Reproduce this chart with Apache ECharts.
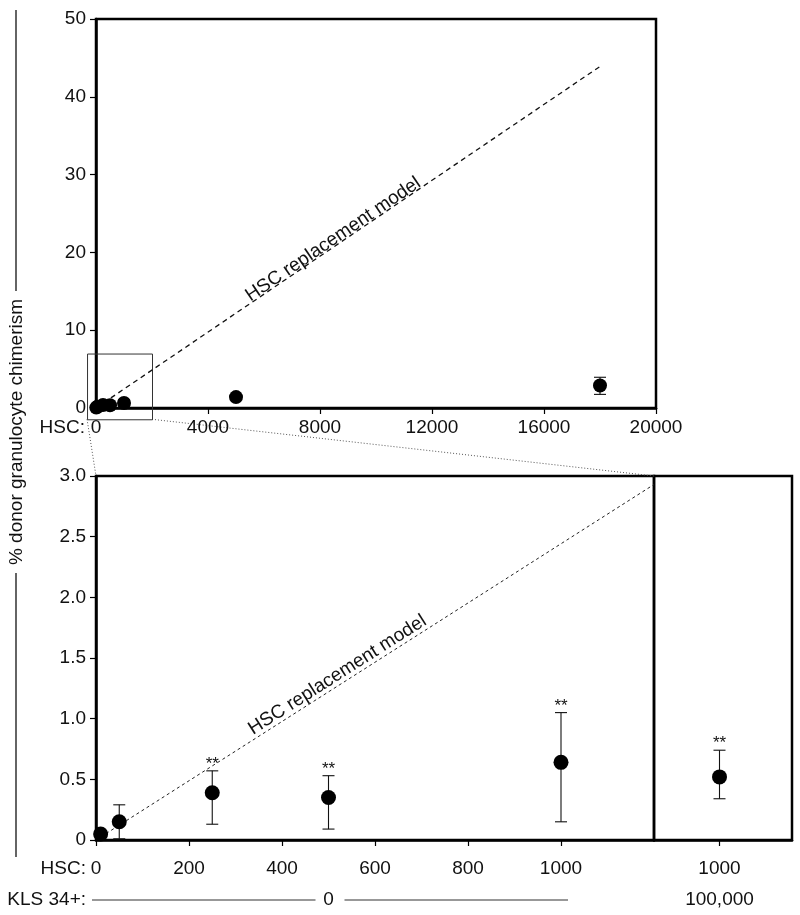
<!DOCTYPE html>
<html><head><meta charset="utf-8">
<script src="https://cdn.jsdelivr.net/npm/echarts@6/dist/echarts.min.js"></script>
<style>html,body{margin:0;padding:0;background:#fff}#c{width:800px;height:915px}</style>
</head><body><div id="c"></div>
<script>
// ---------- data ----------
const hscLowDose = [10, 50, 250, 500, 1000];
const chimLowDose = [0.05, 0.15, 0.39, 0.35, 0.64];
const chimLowDoseLo = [0.04, 0.01, 0.13, 0.09, 0.15];
const chimLowDoseHi = [0.06, 0.29, 0.57, 0.53, 1.05];
const sigLowDose = ['', '', '**', '**', '**'];

const hscHighDose = [5000, 18000];
const chimHighDose = [1.4, 2.9];
const chimHighDoseLo = [1.2, 1.75];
const chimHighDoseHi = [1.6, 3.95];

const hscCombo = [1000];
const klsCombo = ['100,000'];
const chimCombo = [0.52];
const chimComboLo = [0.34];
const chimComboHi = [0.74];
const sigCombo = ['**'];

const modelTopX = [0, 18000];
const modelTopY = [0, 43.9];
const modelBottomX = [0, 1200];
const modelBottomY = [0, 2.93];
const modelLabel = 'HSC replacement model';
const modelLabelTopAt = [8600];
const modelLabelBottomAt = [530];

const zoomBoxX = [-320, 2000];
const zoomBoxY = [-1.45, 7];

const topXTicks = [0, 4000, 8000, 12000, 16000, 20000];
const topYTicks = [0, 10, 20, 30, 40, 50];
const bottomXTicks = [0, 200, 400, 600, 800, 1000];
const bottomYTicks = [0, 0.5, 1, 1.5, 2, 2.5, 3];
const comboXTicks = [1000];
const klsLowLabel = '0';
const klsLowAt = 500;
const hscRowLabel = 'HSC:';
const klsRowLabel = 'KLS 34+:';
const yTitle = '% donor granulocyte chimerism';

// ---------- helpers ----------
const FONT = '"Liberation Sans", Arial, Helvetica, sans-serif';
const zip = (a, b) => a.map((v, i) => [v, b[i]]);
const zip3 = (a, b, c) => a.map((v, i) => [v, b[i], c[i]]);

function errRender(sig, capW) {
  return function (params, api) {
    const x = api.value(0), lo = api.value(1), hi = api.value(2);
    const pl = api.coord([x, lo]), ph = api.coord([x, hi]);
    const st = { stroke: '#111', lineWidth: 1.1 };
    const ch = [
      { type: 'line', shape: { x1: pl[0], y1: pl[1], x2: ph[0], y2: ph[1] }, style: st },
      { type: 'line', shape: { x1: pl[0] - capW, y1: pl[1], x2: pl[0] + capW, y2: pl[1] }, style: st },
      { type: 'line', shape: { x1: ph[0] - capW, y1: ph[1], x2: ph[0] + capW, y2: ph[1] }, style: st }
    ];
    const s = sig ? sig[params.dataIndex] : '';
    if (s) ch.push({ type: 'text', x: ph[0], y: ph[1] + 2,
      style: { text: s, fill: '#111', font: '17px ' + FONT, align: 'center', verticalAlign: 'bottom' } });
    return { type: 'group', children: ch };
  };
}
function labelRender(mx, my, dy) {
  return function (params, api) {
    const xc = api.value(0);
    const p0 = api.coord([mx[0], my[0]]), p1 = api.coord([mx[1], my[1]]);
    const t = (xc - mx[0]) / (mx[1] - mx[0]);
    const px = p0[0] + t * (p1[0] - p0[0]), py = p0[1] + t * (p1[1] - p0[1]);
    const ang = Math.atan2(p0[1] - p1[1], p1[0] - p0[0]);
    return { type: 'group', x: px, y: py, rotation: ang, children: [
      { type: 'text', x: 0, y: dy, style: { text: modelLabel, fill: '#111', font: '19px ' + FONT, align: 'center', verticalAlign: 'bottom' } }
    ] };
  };
}
function xAx(gridIndex, min, max, ticks, margin, fmt) {
  return {
    type: 'value', gridIndex, min, max,
    axisLine: { show: true, onZero: false, lineStyle: { color: '#000', width: 2.5 } },
    axisTick: { show: true, inside: false, length: 6, customValues: ticks, lineStyle: { color: '#000', width: 1.2 } },
    axisLabel: { show: true, customValues: ticks, margin, color: '#111', fontSize: 19, fontFamily: FONT, formatter: fmt },
    splitLine: { show: false }
  };
}
function yAx(gridIndex, min, max, ticks, fmt, show) {
  return {
    type: 'value', gridIndex, min, max,
    axisLine: { show: show, onZero: false, lineStyle: { color: '#000', width: 2.5 } },
    axisTick: { show: show, length: 6, customValues: ticks, lineStyle: { color: '#000', width: 1.2 } },
    axisLabel: { show: show, customValues: ticks, margin: 10, color: '#111', fontSize: 19, fontFamily: FONT, formatter: fmt },
    splitLine: { show: false }
  };
}

const chart = echarts.init(document.getElementById('c'), null, { renderer: 'canvas' });
const gridStyle = { show: true, borderColor: '#000', borderWidth: 2.5, backgroundColor: 'transparent' };
const dot = { color: '#000', opacity: 1 };

chart.setOption({
  animation: false,
  backgroundColor: '#fff',
  grid: [
    Object.assign({ left: 96, top: 19, width: 560, height: 389 }, gridStyle),
    Object.assign({ left: 96, top: 476, width: 558, height: 364 }, gridStyle),
    Object.assign({ left: 654, top: 476, width: 138, height: 364 }, gridStyle)
  ],
  xAxis: [
    xAx(0, 0, 20000, topXTicks, 10, v => String(v)),
    xAx(1, 0, 1200, bottomXTicks, 19, v => String(v)),
    xAx(2, 0, 2107, comboXTicks, 19, v => String(v))
  ],
  yAxis: [
    yAx(0, 0, 50, topYTicks, v => String(v), true),
    yAx(1, 0, 3, bottomYTicks, v => (v === 0 ? '0' : v.toFixed(1)), true),
    yAx(2, 0, 3, bottomYTicks, v => '', false)
  ],
  series: [
    // ---- top panel ----
    { type: 'line', xAxisIndex: 0, yAxisIndex: 0, data: zip(modelTopX, modelTopY), symbol: 'none',
      lineStyle: { color: '#111', width: 1.3, type: [5, 4] }, z: 2 },
    { type: 'custom', xAxisIndex: 0, yAxisIndex: 0, data: modelLabelTopAt.map(v => [v]), renderItem: labelRender(modelTopX, modelTopY, 3), z: 3 },
    { type: 'custom', xAxisIndex: 0, yAxisIndex: 0, data: zip3(hscLowDose.concat(hscHighDose), chimLowDoseLo.concat(chimHighDoseLo), chimLowDoseHi.concat(chimHighDoseHi)),
      renderItem: errRender(null, 6), z: 4 },
    { type: 'scatter', xAxisIndex: 0, yAxisIndex: 0, data: zip(hscLowDose.concat(hscHighDose), chimLowDose.concat(chimHighDose)),
      symbol: 'circle', symbolSize: 14, itemStyle: dot, z: 5 },
    // ---- bottom left panel ----
    { type: 'line', xAxisIndex: 1, yAxisIndex: 1, data: zip(modelBottomX, modelBottomY), symbol: 'none',
      lineStyle: { color: '#222', width: 1, type: [3, 3] }, z: 2 },
    { type: 'custom', xAxisIndex: 1, yAxisIndex: 1, data: modelLabelBottomAt.map(v => [v]), renderItem: labelRender(modelBottomX, modelBottomY, 0), z: 3 },
    { type: 'custom', xAxisIndex: 1, yAxisIndex: 1, data: zip3(hscLowDose, chimLowDoseLo, chimLowDoseHi),
      renderItem: errRender(sigLowDose, 6), z: 4 },
    { type: 'scatter', xAxisIndex: 1, yAxisIndex: 1, data: zip(hscLowDose, chimLowDose),
      symbol: 'circle', symbolSize: 15, itemStyle: dot, z: 5 },
    // ---- bottom right panel ----
    { type: 'custom', xAxisIndex: 2, yAxisIndex: 2, data: zip3(hscCombo, chimComboLo, chimComboHi),
      renderItem: errRender(sigCombo, 6), z: 4 },
    { type: 'scatter', xAxisIndex: 2, yAxisIndex: 2, data: zip(hscCombo, chimCombo),
      symbol: 'circle', symbolSize: 15, itemStyle: dot, z: 5 }
  ]
});

// ---------- annotations positioned through the library's coordinate systems ----------
const px = (g, p) => chart.convertToPixel({ gridIndex: g }, p);
const boxBL = px(0, [zoomBoxX[0], zoomBoxY[0]]);
const boxBR = px(0, [zoomBoxX[1], zoomBoxY[0]]);
const boxTR = px(0, [zoomBoxX[1], zoomBoxY[1]]);
const botTL = px(1, [0, 3]);
const botTR = px(1, [1200, 3]);
const topZero = px(0, [0, 0]);
const botZero = px(1, [0, 0]);
const klsMid = px(1, [klsLowAt, 0]);
const klsEnd = px(1, [bottomXTicks[bottomXTicks.length - 1], 0]);
const comboX = px(2, [hscCombo[0], 0]);

const rowHSCTopY = topZero[1] + 20;
const rowHSCBotY = botZero[1] + 29;
const rowKLSY = botZero[1] + 60;
const titleCY = 432, titleHalf = 141;
const txt = (x, y, text, align) => ({ type: 'text', x, y, silent: true,
  style: { text, fill: '#111', font: '19px ' + FONT, align, verticalAlign: 'middle' } });
const ln = (x1, y1, x2, y2, extra) => ({ type: 'line', silent: true, shape: { x1, y1, x2, y2 },
  style: Object.assign({ stroke: '#222', lineWidth: 1 }, extra || {}) });

chart.setOption({
  graphic: [
    // zoom inset box on the top panel
    { type: 'rect', silent: true, z: 1,
      shape: { x: boxBL[0] + 0.5, y: boxTR[1] + 0.5, width: boxTR[0] - boxBL[0], height: boxBL[1] - boxTR[1] },
      style: { fill: 'none', stroke: '#333', lineWidth: 1 } },
    // zoom connectors
    ln(boxBL[0], boxBL[1], botTL[0], botTL[1], { stroke: '#555', lineDash: [1, 2] }),
    ln(boxBR[0], boxBR[1], botTR[0], botTR[1], { stroke: '#555', lineDash: [1, 2] }),
    // y title with flanking rules
    { type: 'text', x: 17, y: titleCY, rotation: Math.PI / 2, silent: true,
      style: { text: yTitle, fill: '#111', font: '19px ' + FONT, align: 'center', verticalAlign: 'middle' } },
    ln(16, 10, 16, titleCY - titleHalf, { stroke: '#111', lineWidth: 1.3 }),
    ln(16, titleCY + titleHalf, 16, 857, { stroke: '#111', lineWidth: 1.3 }),
    // row labels
    txt(topZero[0] - 11, rowHSCTopY, hscRowLabel, 'right'),
    txt(botZero[0] - 10, rowHSCBotY, hscRowLabel, 'right'),
    txt(botZero[0] - 10, rowKLSY, klsRowLabel, 'right'),
    ln(botZero[0] - 4, rowKLSY, klsMid[0] - 13, rowKLSY, { stroke: '#333', lineWidth: 1.2 }),
    txt(klsMid[0], rowKLSY, klsLowLabel, 'center'),
    ln(klsMid[0] + 16, rowKLSY, klsEnd[0] + 7, rowKLSY, { stroke: '#333', lineWidth: 1.2 }),
    txt(comboX[0], rowKLSY, klsCombo[0], 'center')
  ]
});
</script>
</body></html>
